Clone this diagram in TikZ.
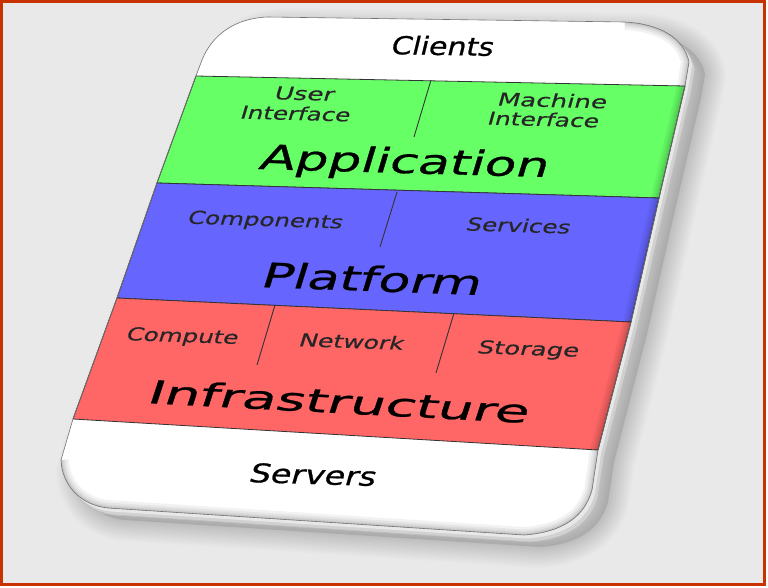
\documentclass[tikz,border=0pt]{standalone}
\usepackage{fontspec}
\setmainfont{DejaVu Sans}
\newfontfamily\bigfont[FakeBold=0.7]{DejaVu Sans}
\newfontfamily\smallfont[FakeBold=0.35]{DejaVu Sans}
\definecolor{bgc}{HTML}{E9E9E9}
\definecolor{framec}{HTML}{C83200}
\definecolor{appg}{HTML}{66FF66}
\definecolor{platb}{HTML}{6666FF}
\definecolor{infr}{HTML}{FF6666}
\definecolor{sepc}{HTML}{333333}
\tikzset{
  facepath/.style={insert path={(196,76) -- (202,60) .. controls (212,35) and (235,18) .. (268,17) -- (625,22) .. controls (660,24) and (684,38) .. (689,62) -- (685,86) -- (659,198) -- (631,322) -- (598,450) -- (592,490) .. controls (585,515) and (565,532) .. (524,535) -- (108,508) .. controls (80,505) and (62,485) .. (61,460) -- (73,419) -- (117,298) -- (157,183) -- cycle}},
  lbl/.style={inner sep=0pt, anchor=base, text=black},
  sub/.style={lbl, text=black!85, font=\smallfont\fontsize{18}{18}\selectfont},
  band/.style={draw=sepc, line width=0.8pt, line join=round},
  divider/.style={draw=sepc, line width=0.9pt},
}
\begin{document}
\begin{tikzpicture}[x=1pt, y=-1pt]
\useasboundingbox (0,0) rectangle (768,587);
\fill[white] (0,0) rectangle (768,587);
\fill[bgc] (1.5,1.5) rectangle (764.5,584.5);
% shadow
\foreach \i in {1,...,14}
  \draw[shift={(16,12)}, line width=3*\i pt, draw=black, opacity=0.012, line join=round, facepath];
\fill[shift={(16,12)}, black, opacity=0.1, facepath];
% card thickness
\draw[shift={(6,7)}, fill=black!18, draw=black!26, line width=0.8pt, facepath];
\draw[shift={(3,3.5)}, fill=black!9, draw=none, facepath];
% face
\fill[white, facepath];
% bands
\path[band, fill=appg] (196,76) -- (685,86) -- (659,198) -- (157,183) -- cycle;
\path[band, fill=platb] (157,183) -- (659,198) -- (631,322) -- (117,298) -- cycle;
\path[band, fill=infr] (117,298) -- (631,322) -- (598,450) -- (73,419) -- cycle;
% bevel shading
\begin{scope}
  \clip[facepath];
  \foreach \w in {16,11,7,4,2}
    \draw[black, opacity=0.05, line width=\w pt, line join=round]
      (625,22) .. controls (660,24) and (684,38) .. (689,62) -- (685,86) -- (659,198) -- (631,322) -- (598,450) -- (592,490) .. controls (585,515) and (565,532) .. (524,535) -- (108,508) .. controls (80,505) and (62,485) .. (61,460);
\end{scope}
\draw[black!55, line width=0.6pt, facepath];
% dividers
\coordinate (g1) at (431,80); \coordinate (g2) at (414,137);
\coordinate (b1) at (397,192); \coordinate (b2) at (380,247);
\coordinate (r1) at (275,305); \coordinate (r2) at (257,365);
\coordinate (r3) at (454,313); \coordinate (r4) at (436,373);
\draw[divider] (g1) -- (g2);
\draw[divider] (b1) -- (b2);
\draw[divider] (r1) -- (r2);
\draw[divider] (r3) -- (r4);
% labels
\node[lbl, font=\bigfont\fontsize{25}{25}\selectfont, rotate=-1, xslant=0.22, xscale=1.2] (clients) at (441,55) {Clients};
\node[sub, rotate=-1.5, xslant=0.27, xscale=1.45] (user) at (303,100) {User};
\node[sub, rotate=-1.5, xslant=0.27, xscale=1.36] (uiface) at (294,120) {Interface};
\node[sub, rotate=-1.5, xslant=0.25, xscale=1.45] (machine) at (551,107) {Machine};
\node[sub, rotate=-1.5, xslant=0.25, xscale=1.38] (miface) at (542,126) {Interface};
\node[lbl, font=\bigfont\fontsize{34}{34}\selectfont, rotate=-1.6, xslant=0.27, xscale=1.52] (app) at (402,173) {Application};
\node[sub, rotate=-1.8, xslant=0.27, xscale=1.36] (comp) at (264,226) {Components};
\node[sub, rotate=-1.8, xslant=0.25, xscale=1.37] (serv) at (517,232) {Services};
\node[lbl, font=\bigfont\fontsize{34}{34}\selectfont, rotate=-2.1, xslant=0.27, xscale=1.53] (plat) at (369,291) {Platform};
\node[sub, rotate=-2, xslant=0.27, xscale=1.36] (compute) at (181,342) {Compute};
\node[sub, rotate=-2, xslant=0.27, xscale=1.39] (net) at (350,348) {Network};
\node[sub, rotate=-2, xslant=0.25, xscale=1.44] (stor) at (527,355) {Storage};
\node[lbl, font=\bigfont\fontsize{32}{32}\selectfont, rotate=-3, xslant=0.27, xscale=1.74] (infra) at (336,413) {Infrastructure};
\node[lbl, font=\bigfont\fontsize{26}{26}\selectfont, rotate=-1.8, xslant=0.25, xscale=1.28] (servers) at (311,484) {Servers};
% frame
\draw[framec, line width=3pt] (1.5,1.5) rectangle (764.5,584.5);
\end{tikzpicture}
\end{document}
